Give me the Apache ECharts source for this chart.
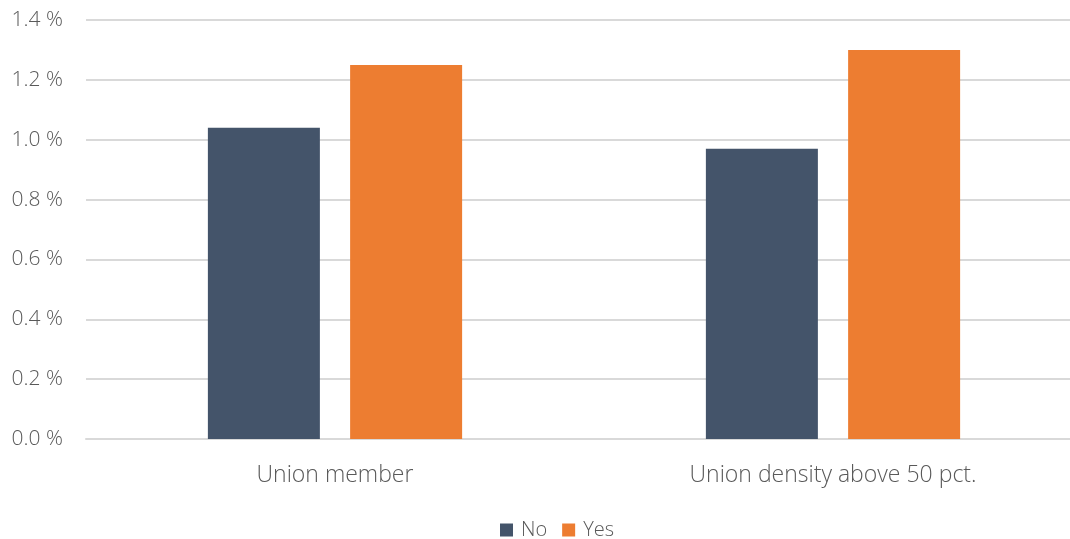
<!DOCTYPE html>
<html>
<head>
<meta charset="utf-8">
<script src="https://cdn.jsdelivr.net/npm/echarts@6/dist/echarts.min.js"></script>
<style>
  html, body { margin: 0; padding: 0; background: #fff; }
  #chart { width: 1070px; height: 539px; }
</style>
</head>
<body>
<div id="chart"></div>
<script>
// categories and values (percent)
var categories = ['Union member', 'Union density above 50 pct.'];
var noValues = [1.04, 0.97];
var yesValues = [1.25, 1.30];
var yTicks = { min: 0, max: 1.4, interval: 0.2 };

var textColor = '#595959';
var fontFam = '"Open Sans", "Liberation Sans", sans-serif';

var chart = echarts.init(document.getElementById('chart'));
chart.setOption({
    backgroundColor: '#fff',
    animation: false,
    grid: { left: 86, width: 996, top: 20, height: 419, outerBoundsMode: 'none', containLabel: false },
    legend: {
        top: 515,
        left: 495,
        itemWidth: 13,
        itemHeight: 13,
        itemGap: 15,
        icon: 'rect',
        textStyle: { color: textColor, fontSize: 20, fontFamily: fontFam, fontWeight: 300, padding: [0, 0, 0, 3] },
        data: ['No', 'Yes']
    },
    xAxis: {
        type: 'category',
        data: categories,
        axisLine: { lineStyle: { color: '#d9d9d9', width: 2 } },
        axisTick: { show: false },
        axisLabel: { color: textColor, fontSize: 23, fontFamily: fontFam, fontWeight: 300, margin: 25 }
    },
    yAxis: {
        type: 'value',
        min: yTicks.min,
        max: yTicks.max,
        interval: yTicks.interval,
        axisLine: { show: false },
        axisTick: { show: false },
        splitLine: { lineStyle: { color: '#d9d9d9', width: 2 } },
        axisLabel: {
            color: textColor, fontSize: 21, fontFamily: fontFam, fontWeight: 300, margin: 23,
            formatter: function (v) { return v.toFixed(1) + ' %'; }
        }
    },
    series: [
        { name: 'No', type: 'bar', data: noValues, barWidth: 112, barGap: '27%',
          itemStyle: { color: '#44546a' } },
        { name: 'Yes', type: 'bar', data: yesValues, barWidth: 112,
          itemStyle: { color: '#ed7d31' } }
    ]
});
</script>
</body>
</html>
